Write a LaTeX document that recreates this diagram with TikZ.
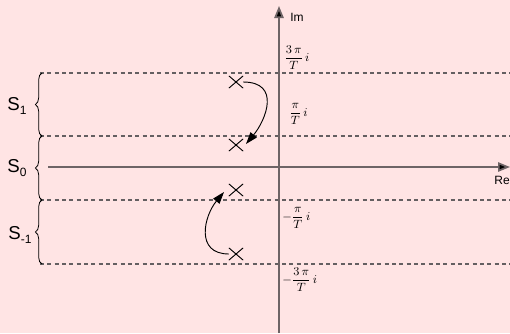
\documentclass[tikz,border=0pt]{standalone}
\usepackage{fontspec}
\setmainfont{Liberation Sans}
\usetikzlibrary{arrows.meta,shapes.misc,decorations.pathreplacing,calc}
\definecolor{bgpink}{RGB}{255,228,228}
\definecolor{axisgray}{RGB}{110,100,102}
\definecolor{dashgray}{RGB}{100,95,97}
\newcommand{\lowsub}[1]{\raisebox{-3.5pt}{\fontsize{9}{9}\selectfont #1}}
\tikzset{
  axis/.style={draw=axisgray, line width=1.3pt, -{Triangle[length=9pt,width=7pt,fill=black]}},
  strip/.style={draw=dashgray, line width=0.8pt, dash pattern=on 3pt off 2.5pt},
  pole/.style={cross out, draw=black, line width=0.7pt, minimum width=10pt, minimum height=8.5pt, inner sep=0pt},
  turn/.style={draw=black, line width=0.7pt, -{Triangle[length=9pt,width=6pt,fill=black]}},
  brc/.style={decorate, decoration={brace, amplitude=5pt}, line width=0.6pt},
  slab/.style={font=\fontsize{14}{16}\selectfont, inner sep=0pt},
  axlab/.style={font=\fontsize{9}{11}\selectfont, inner sep=0pt},
  vlab/.style={font=\fontsize{9.5}{11}\selectfont, inner sep=0pt, anchor=west}
}
\begin{document}
\begin{tikzpicture}[x=0.75pt,y=-0.75pt]
\fill[bgpink] (0,0) rectangle (510,333);
\useasboundingbox (0,0) rectangle (510,333);
% strip boundaries
\coordinate (d1l) at (40,73);  \coordinate (d1r) at (510,73);
\coordinate (d2l) at (40,136); \coordinate (d2r) at (510,136);
\coordinate (d3l) at (40,200); \coordinate (d3r) at (510,200);
\coordinate (d4l) at (40,264); \coordinate (d4r) at (510,264);
\draw[strip] (d1l) -- (d1r);
\draw[strip] (d2l) -- (d2r);
\draw[strip] (d3l) -- (d3r);
\draw[strip] (d4l) -- (d4r);
% axes
\coordinate (xs) at (48,167); \coordinate (xe) at (510,167);
\coordinate (ys) at (279,333); \coordinate (ye) at (279,6);
\draw[axis] (xs) -- (xe);
\draw[axis] (ys) -- (ye);
\node[axlab] (re) at (502,180) {Re};
\node[axlab] (im) at (297,17) {Im};
% braces
\draw[brc] (42,136) -- (42,73);
\draw[brc] (42,200) -- (42,136);
\draw[brc] (42,264) -- (42,200);
\node[slab] (s1) at (17,106) {S\lowsub{1}};
\node[slab] (s0) at (17,168) {S\lowsub{0}};
\node[slab] (sm1) at (20,235) {S\lowsub{-1}};
% value labels
\node[vlab] (v1) at (284,58) {$\displaystyle\frac{3\,\pi}{T}\,i$};
\node[vlab] (v2) at (289,114) {$\displaystyle\frac{\pi}{T}\,i$};
\node[vlab] (v3) at (282,218) {$\displaystyle-\frac{\pi}{T}\,i$};
\node[vlab] (v4) at (282,280) {$\displaystyle-\frac{3\,\pi}{T}\,i$};
% poles
\node[pole] (c1) at (236,82) {};
\node[pole] (c2) at (236,145) {};
\node[pole] (c3) at (236,190) {};
\node[pole] (c4) at (236,254) {};
\coordinate (t2) at ($(c2)+(10,-1)$);
\coordinate (t3) at ($(c3)+(-12,2)$);
\draw[turn] (c1.east) .. controls +(38,0) and +(20,-24) .. (t2);
\draw[turn] (c4.west) .. controls +(-34,0) and +(-20,24) .. (t3);
\end{tikzpicture}
\end{document}
